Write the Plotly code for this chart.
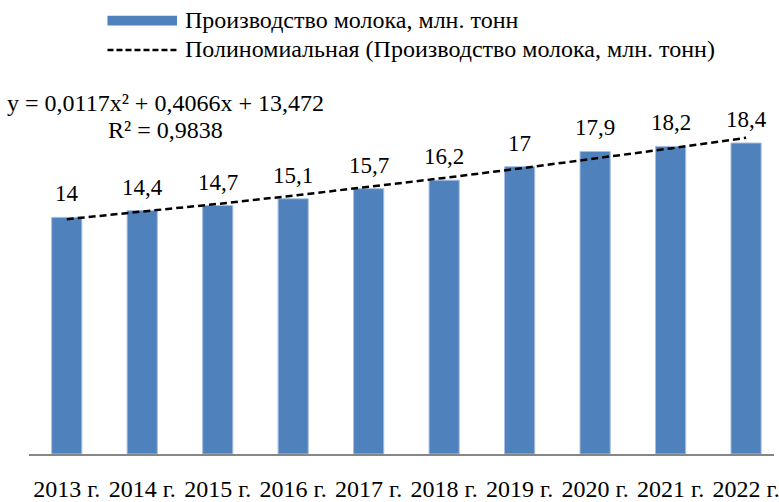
import plotly.graph_objects as go

years = ["2013 г.", "2014 г.", "2015 г.", "2016 г.", "2017 г.", "2018 г.", "2019 г.", "2020 г.", "2021 г.", "2022 г."]
milk = [14, 14.4, 14.7, 15.1, 15.7, 16.2, 17, 17.9, 18.2, 18.4]
labels = ["14", "14,4", "14,7", "15,1", "15,7", "16,2", "17", "17,9", "18,2", "18,4"]
# trendline coefficients as printed on the chart
a2, a1, a0 = 0.0117, 0.4066, 13.472
trend = [a2 * (i + 1) ** 2 + a1 * (i + 1) + a0 for i in range(len(years))]

FONT = "Liberation Serif"
W, H = 779, 502
L, R, T, B = 29, 0, 0, 40
PH = H - T - B

fig = go.Figure()
fig.add_trace(go.Bar(
    x=list(range(len(years))), y=milk, marker=dict(color="#4F81BD", line=dict(color="#A9C0E0", width=1)),
    showlegend=False, hoverinfo="skip"))
fig.add_trace(go.Scatter(
    x=list(range(len(years))), y=trend, mode="lines",
    line=dict(color="black", width=2.5, dash="7px,4px"), showlegend=False, hoverinfo="skip"))

for i, (v, t) in enumerate(zip(milk, labels)):
    fig.add_annotation(x=i, y=v, text=t, showarrow=False, yanchor="bottom", yshift=9,
                       font=dict(family=FONT, size=23, color="black"))

def py(p):
    return (H - B - p) / PH

def px(p):
    return (p - L) / (W - L - R)

# manual legend
fig.add_shape(type="rect", xref="paper", yref="paper", x0=px(108), x1=px(178),
              y0=py(26), y1=py(16), fillcolor="#4F81BD", line=dict(width=0))
fig.add_shape(type="line", xref="paper", yref="paper", x0=px(108), x1=px(178),
              y0=py(51), y1=py(51), line=dict(color="black", width=2.5, dash="6px,3px"))
fig.add_annotation(xref="paper", yref="paper", x=px(184), y=py(20),
                   text="Производство молока, млн. тонн", showarrow=False, xanchor="left",
                   yanchor="middle", font=dict(family=FONT, size=24, color="black"))
fig.add_annotation(xref="paper", yref="paper", x=px(184), y=py(50),
                   text="Полиномиальная (Производство молока, млн. тонн)", showarrow=False,
                   xanchor="left", yanchor="middle", font=dict(family=FONT, size=24, color="black"))
fig.add_annotation(xref="paper", yref="paper", x=px(166), y=py(105),
                   text="y = 0,0117x² + 0,4066x + 13,472", showarrow=False,
                   xanchor="center", yanchor="middle", font=dict(family=FONT, size=24, color="black"))
fig.add_annotation(xref="paper", yref="paper", x=px(166), y=py(132),
                   text="R² = 0,9838", showarrow=False,
                   xanchor="center", yanchor="middle", font=dict(family=FONT, size=24, color="black"))

fig.update_layout(
    width=W, height=H, margin=dict(l=L, r=R, t=T, b=B),
    paper_bgcolor="white", plot_bgcolor="white", bargap=0.6,
    font=dict(family=FONT, color="black"),
    xaxis=dict(range=[-0.5, 9.37], tickmode="array", tickvals=list(range(len(years))), ticktext=years,
               showline=True, linecolor="#868686", linewidth=2, showgrid=False, zeroline=False,
               ticks="", ticklabelstandoff=12, ticklabeloverflow="allow",
               tickfont=dict(family=FONT, size=24, color="black")),
    yaxis=dict(range=[0, PH / 17.2], visible=False, showgrid=False, zeroline=False),
)
fig.write_html("out.html")
